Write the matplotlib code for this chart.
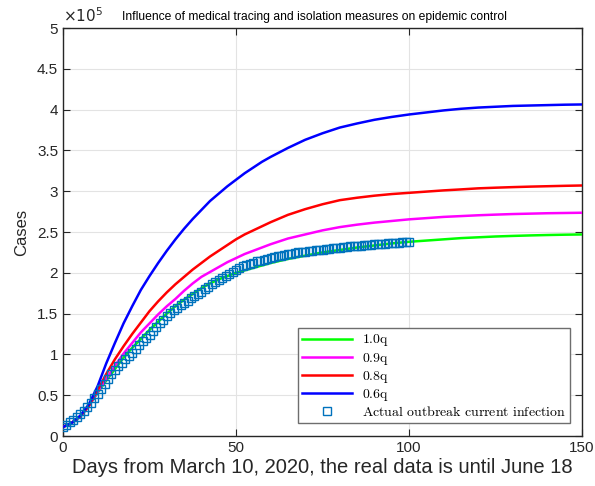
import matplotlib
matplotlib.use("Agg")
import matplotlib.pyplot as plt
from matplotlib.ticker import FuncFormatter, MultipleLocator

# values in units of 1e5 cases
days_model = [0, 2.5, 5, 7.5, 10, 12.5, 15, 17.5, 20, 22.5, 25, 27.5, 30, 32.5, 35, 37.5,
              40, 42.5, 45, 47.5, 50, 52.5, 55, 57.5, 60,
              65, 70, 75, 80, 85, 90, 95, 100, 105, 110, 115, 120, 125, 130, 135, 140, 145, 150]
q10 = [0.11, 0.16, 0.24, 0.37, 0.53, 0.68, 0.82, 0.96, 1.08, 1.19, 1.30, 1.40, 1.50, 1.59,
       1.67, 1.74, 1.81, 1.87, 1.92, 1.96, 2.00, 2.03, 2.06, 2.09, 2.12,
       2.17, 2.21, 2.25, 2.28, 2.31, 2.335, 2.36, 2.38, 2.395, 2.41, 2.425, 2.435, 2.445,
       2.452, 2.458, 2.463, 2.467, 2.47]
q09 = [0.11, 0.16, 0.24, 0.37, 0.54, 0.70, 0.86, 1.01, 1.14, 1.27, 1.38, 1.49, 1.59, 1.68,
       1.78, 1.87, 1.95, 2.01, 2.07, 2.13, 2.18, 2.23, 2.27, 2.31, 2.35,
       2.42, 2.47, 2.52, 2.56, 2.59, 2.615, 2.635, 2.655, 2.67, 2.685, 2.695, 2.705, 2.713,
       2.72, 2.725, 2.73, 2.733, 2.736]
q08 = [0.11, 0.16, 0.24, 0.37, 0.56, 0.76, 0.94, 1.10, 1.25, 1.39, 1.53, 1.65, 1.76, 1.86,
       1.95, 2.04, 2.12, 2.20, 2.27, 2.34, 2.41, 2.47, 2.52, 2.57, 2.62,
       2.71, 2.78, 2.84, 2.89, 2.92, 2.945, 2.965, 2.98, 2.995, 3.01, 3.022, 3.035, 3.043,
       3.05, 3.056, 3.061, 3.066, 3.07]
q06 = [0.11, 0.16, 0.25, 0.39, 0.61, 0.89, 1.14, 1.38, 1.59, 1.79, 1.96, 2.12, 2.27, 2.41,
       2.54, 2.66, 2.77, 2.88, 2.97, 3.06, 3.14, 3.22, 3.29, 3.36, 3.42,
       3.53, 3.63, 3.71, 3.78, 3.83, 3.875, 3.91, 3.94, 3.965, 3.99, 4.01, 4.025, 4.035,
       4.045, 4.05, 4.055, 4.06, 4.063]

days_actual = list(range(0, 101))
actual = [0.11, 0.14, 0.17, 0.20, 0.23, 0.27, 0.31, 0.355, 0.40, 0.46,
          0.52, 0.58, 0.64, 0.70, 0.76, 0.81, 0.86, 0.90, 0.94, 0.98,
          1.02, 1.07, 1.11, 1.16, 1.20, 1.24, 1.29, 1.33, 1.38, 1.42,
          1.47, 1.505, 1.54, 1.57, 1.60, 1.63, 1.66, 1.69, 1.72, 1.745,
          1.77, 1.80, 1.83, 1.86, 1.89, 1.91, 1.94, 1.96, 1.99, 2.01,
          2.04, 2.06, 2.08, 2.095, 2.11, 2.125, 2.14, 2.15, 2.16, 2.17,
          2.18, 2.19, 2.20, 2.21, 2.22, 2.23, 2.235, 2.24, 2.25, 2.255,
          2.26, 2.265, 2.27, 2.275, 2.28, 2.285, 2.29, 2.295, 2.30, 2.305,
          2.31, 2.315, 2.32, 2.323, 2.326, 2.33, 2.334, 2.338, 2.342, 2.346,
          2.35, 2.353, 2.356, 2.359, 2.362, 2.365, 2.368, 2.371, 2.374, 2.377,
          2.38]

labels = [r'$\mathrm{1.0q}$', r'$\mathrm{0.9q}$', r'$\mathrm{0.8q}$', r'$\mathrm{0.6q}$']
colors = ['#00ff00', '#ff00ff', '#ff0000', '#0000ff']
actual_label = r'$\mathrm{Actual\ outbreak\ current\ infection}$'

plt.rcParams['font.family'] = ['Liberation Sans', 'DejaVu Sans']
plt.rcParams['mathtext.fontset'] = 'cm'

fig = plt.figure(figsize=(5.95, 4.86), dpi=100)
ax = fig.add_axes([63/595, 50/486, 519/595, 408/486])

for ys, c, lab in zip([q10, q09, q08, q06], colors, labels):
    ax.plot(days_model, ys, color=c, lw=1.8, label=lab, zorder=3)
ax.plot(days_actual, actual, ls='none', marker='s', ms=6, mfc='none',
        mec='#0072BD', mew=1.0, label=actual_label, zorder=4)

ax.set_xlim(0, 150)
ax.set_ylim(0, 5)
ax.xaxis.set_major_locator(MultipleLocator(50))
ax.yaxis.set_major_locator(MultipleLocator(0.5))
ax.yaxis.set_major_formatter(FuncFormatter(lambda v, p: '%g' % v))
ax.tick_params(direction='in', length=5, width=0.8, labelsize=11,
               top=True, right=True, colors='#262626')
ax.grid(True, color='#e3e3e3', lw=0.8, zorder=0)
ax.set_axisbelow(True)
for s in ax.spines.values():
    s.set_linewidth(1.0)
    s.set_color('#262626')

ax.set_xlabel('Days from March 10, 2020, the real data is until June 18',
              fontsize=14.5, color='#262626', labelpad=2)
ax.set_ylabel('Cases', fontsize=12, color='#262626', labelpad=6)
ax.set_title('Influence of medical tracing and isolation measures on epidemic control',
             fontsize=8.7, pad=6, x=0.485)
ax.text(0.0, 1.008, r'$\times10^{5}$', transform=ax.transAxes, fontsize=11,
        ha='left', va='bottom', color='#262626',
        math_fontfamily='dejavusans')

leg = ax.legend(loc='lower right', bbox_to_anchor=(0.977, 0.032), fontsize=10,
                frameon=True, fancybox=False, framealpha=1, edgecolor='#6e6e6e',
                handlelength=3.6, handletextpad=0.7, borderpad=0.3,
                labelspacing=0.15, borderaxespad=0)
leg.get_frame().set_linewidth(1.0)

fig.savefig('out.png', dpi=100)
